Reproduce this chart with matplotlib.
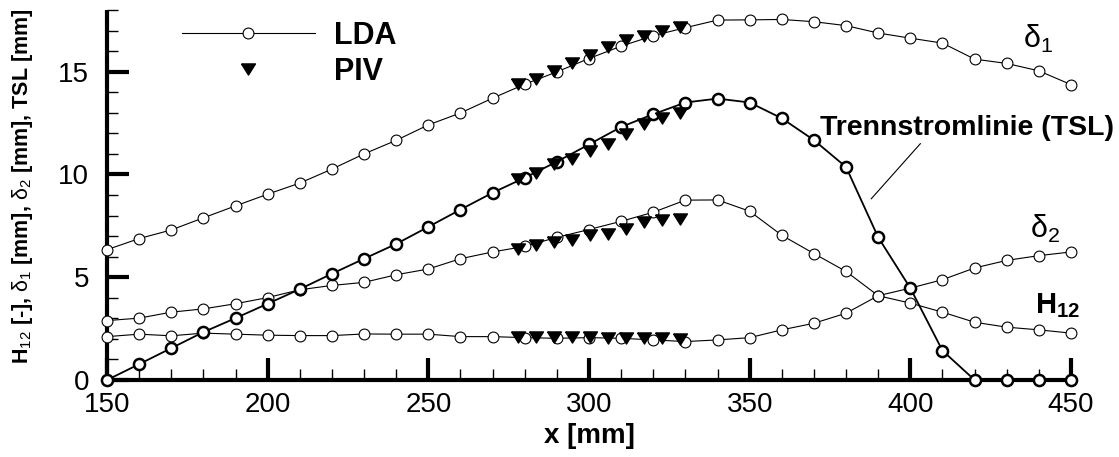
import matplotlib
matplotlib.use("Agg")
import matplotlib.pyplot as plt
from matplotlib.lines import Line2D

plt.rcParams['font.family'] = ['Liberation Sans', 'DejaVu Sans']
plt.rcParams['mathtext.fontset'] = 'custom'
plt.rcParams['mathtext.rm'] = 'Liberation Sans'
plt.rcParams['mathtext.bf'] = 'Liberation Sans:bold'
plt.rcParams['mathtext.it'] = 'Liberation Sans:italic'

# ---------------- data ----------------
x_lda = [150, 160, 170, 180, 190, 200, 210, 220, 230, 240, 250, 260, 270, 280, 290,
         300, 310, 320, 330, 340, 350, 360, 370, 380, 390, 400, 410, 420, 430, 440, 450]
delta1 = [6.34, 6.88, 7.30, 7.89, 8.47, 9.04, 9.58, 10.26, 11.00, 11.66, 12.41, 12.99,
          13.71, 14.39, 14.99, 15.64, 16.24, 16.75, 17.14, 17.51, 17.52, 17.54, 17.43,
          17.24, 16.88, 16.63, 16.39, 15.61, 15.40, 15.04, 14.37]
delta2 = [2.89, 3.01, 3.30, 3.46, 3.71, 4.01, 4.39, 4.60, 4.75, 5.12, 5.40, 5.90, 6.23,
          6.50, 6.94, 7.32, 7.72, 8.16, 8.75, 8.76, 8.21, 7.04, 6.15, 5.28, 4.10, 3.74,
          3.30, 2.81, 2.57, 2.44, 2.28]
h12 = [2.11, 2.23, 2.15, 2.28, 2.23, 2.18, 2.16, 2.16, 2.24, 2.23, 2.23, 2.11, 2.11,
       2.06, 2.03, 2.06, 2.03, 1.95, 1.87, 1.95, 2.06, 2.44, 2.76, 3.25, 4.10, 4.47,
       4.88, 5.45, 5.82, 6.05, 6.23]
tsl = [0.00, 0.77, 1.55, 2.33, 3.01, 3.71, 4.42, 5.17, 5.90, 6.62, 7.45, 8.29, 9.11,
       9.84, 10.62, 11.46, 12.31, 12.93, 13.50, 13.69, 13.50, 12.73, 11.67, 10.36, 6.94,
       4.47, 1.43, 0.00, 0.00, 0.00, 0.00]

x_piv = [277.8, 283.4, 289.0, 294.6, 300.2, 305.8, 311.4, 317.0, 322.6, 328.2]
piv_delta1 = [14.39, 14.63, 15.04, 15.40, 15.82, 16.18, 16.54, 16.75, 16.96, 17.15]
piv_tsl = [9.76, 10.08, 10.49, 10.73, 11.14, 11.46, 11.95, 12.44, 12.77, 13.01]
piv_delta2 = [6.39, 6.59, 6.72, 6.83, 7.04, 7.11, 7.35, 7.69, 7.80, 7.85]
piv_h12 = [2.11, 2.11, 2.11, 2.11, 2.10, 2.06, 2.06, 2.03, 2.03, 2.00]

xticks = [150, 200, 250, 300, 350, 400, 450]
yticks = [0, 5, 10, 15]

# ---------------- figure ----------------
fig = plt.figure(figsize=(11.19, 4.57), dpi=100)
ax = fig.add_axes([107 / 1119, 77 / 457, 964 / 1119, 370 / 457])

tri = [(-1.0, 0.8), (1.0, 0.8), (0.0, -0.8), (-1.0, 0.8)]
thin = dict(color='black', lw=0.8, marker='o', ms=7.8, mfc='white', mec='black',
            mew=0.8, clip_on=False, zorder=3)
for ser in (delta1, delta2, h12):
    ax.plot(x_lda, ser, **thin)
ax.plot(x_lda, tsl, color='black', lw=1.3, marker='o', ms=8.0, mfc='white',
        mec='black', mew=1.8, clip_on=False, zorder=4)

for ser in (piv_delta1, piv_tsl, piv_delta2, piv_h12):
    ax.plot(x_piv, ser, ls='none', marker=tri, ms=10, color='black', zorder=5)

ax.set_xlim(150, 450)
ax.set_ylim(0, 18)

for s in ('top', 'right'):
    ax.spines[s].set_visible(False)
for s in ('left', 'bottom'):
    ax.spines[s].set_linewidth(3)
    ax.spines[s].set_capstyle('butt')

ax.set_xticks(xticks)
ax.set_yticks(yticks)
ax.set_xticks(range(150, 451, 10), minor=True)
ax.set_yticks(range(0, 19, 1), minor=True)
ax.tick_params(which='major', direction='in', length=16, width=3, labelsize=20, color='black')
ax.tick_params(which='minor', direction='in', length=8, width=1, color='black')
ax.tick_params(axis='x', which='major', pad=9)
ax.tick_params(axis='y', which='major', pad=13)

ax.set_xlabel('x [mm]', fontsize=20, fontweight='bold', labelpad=3)
fig.text(23 / 1119, 1 - 186 / 457,
         r'H$_{12}$ [-], $\mathrm{\delta}_1$ [mm], $\mathrm{\delta}_2$ [mm], TSL [mm]',
         rotation=90, ha='center', va='center', fontsize=15.5, fontweight='bold')

# legend
handles = [Line2D([], [], color='black', lw=0.8, marker='o', ms=7.8, mfc='white', mec='black', mew=0.8),
           Line2D([], [], ls='none', marker=tri, ms=10, color='black')]
ax.legend(handles, ['LDA', 'PIV'], loc='center left', bbox_to_anchor=(75 / 964, (380 - 54) / 370),
          frameon=False, borderpad=0, borderaxespad=0, handlelength=4.35, handletextpad=0.64,
          labelspacing=0.2, numpoints=1, prop={'weight': 'bold', 'size': 22})

# curve labels
ax.text(439.8, 16.6, r'$\mathrm{\delta}_1$', fontsize=22, ha='center', va='center')
ax.text(441.9, 7.37, r'$\mathrm{\delta}_2$', fontsize=22, ha='center', va='center')
ax.text(445.7, 3.6, r'$\mathbf{H}_\mathbf{12}$', fontsize=21, ha='center', va='center')
ax.annotate('Trennstromlinie (TSL)', xy=(387.8, 8.81), xytext=(371.9, 12.27),
            fontsize=20.5, fontweight='bold', ha='left', va='center', annotation_clip=False,
            arrowprops=dict(arrowstyle='-', lw=0.8, color='black', shrinkA=0, shrinkB=0,
                            relpos=(0.35, 0)))

fig.savefig('out.png', dpi=100)
